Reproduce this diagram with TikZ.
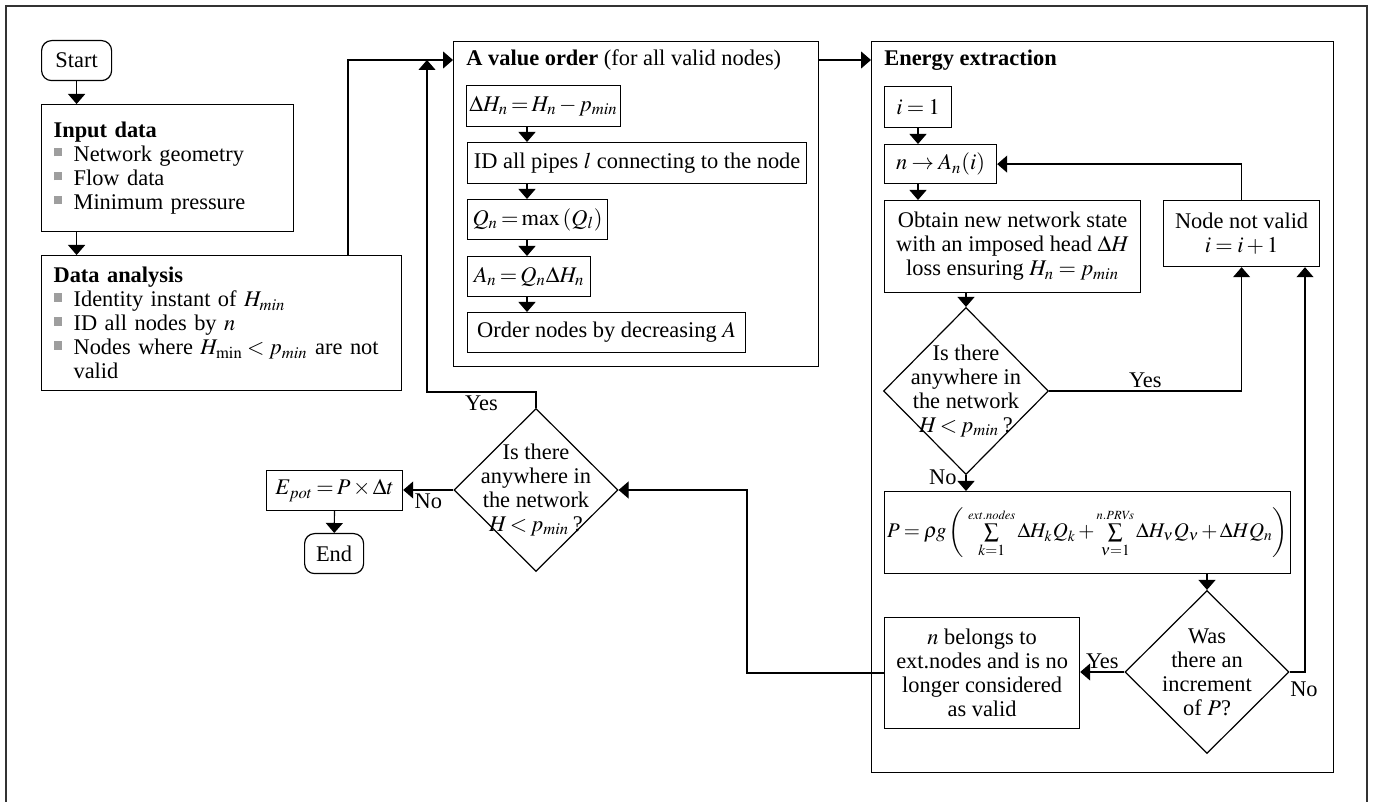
\documentclass[tikz,border=0pt]{standalone}
\usepackage{mathptmx}
\usepackage{fontspec}
\setmainfont{Liberation Serif}
\usetikzlibrary{arrows.meta,shapes.geometric}

\definecolor{bulgray}{gray}{0.62}
\newcommand{\bsq}{\makebox[10pt][l]{\textcolor{bulgray}{\rule[2.5pt]{4.2pt}{4.2pt}}}}
\thickmuskip=3.5mu plus 1mu
\medmuskip=2.5mu plus 1mu

\tikzset{
	box/.style={draw, line width=0.6pt, inner sep=0pt, anchor=north west},
	term/.style={box, rounded corners=5pt},
	groupbox/.style={box},
	listbox/.style={box, inner xsep=6pt, align=left},
	tightmath/.style={execute at begin node={\thickmuskip=2.5mu\medmuskip=2mu}},
	decision/.style={draw, line width=0.6pt, diamond, inner sep=0pt, shape aspect=1},
	arr/.style={line width=0.6pt, -{Triangle[width=8.5pt,length=5pt]}},
	lbl/.style={inner sep=1.5pt},
}

\begin{document}
\begin{tikzpicture}[x=0.5pt, y=-0.5pt, font=\fontsize{11.2}{12}\selectfont]
	\useasboundingbox (0,0) rectangle (1373,802);
	\draw [line width=0.7pt, black!80] (6,812) -- (6,6) -- (1367,6) -- (1367,812);

	% helper columns and rows
	\coordinate (top) at (348,60);
	\coordinate (colA) at (527,0);
	\coordinate (colE) at (918,0);
	\coordinate (colN) at (1305,0);
	\coordinate (colB) at (747,0);
	\coordinate (yes) at (427,392);

	% left column
	\node [term, minimum width=35pt, minimum height=20pt] (start) at (41,40) {Start};
	\node [listbox, text width=114pt, minimum height=63.5pt] (input) at (41,104) {%
		\textbf{Input data}\\
		\bsq Network geometry\\
		\bsq Flow data\\
		\bsq Minimum pressure};
	\node [listbox, text width=168pt, minimum height=67.5pt] (analysis) at (41,255) {%
		\textbf{Data analysis}\\
		\bsq Identity instant of $H_{min}$\\
		\bsq ID all nodes by $n$\\
		\bsq Nodes where $H_{\mathrm{min}} < p_{min}$ are not\\
		\hspace*{10pt}valid};

	% A value order
	\node [groupbox, minimum width=182.5pt, minimum height=162.5pt] (avalue) at (453,41) {};
	\node [anchor=west, inner sep=0pt] (avtitle) at (466,60) {\textbf{A value order} (for all valid nodes)};
	\node [box, tightmath, minimum width=77pt, minimum height=20.5pt] (dh) at (466,85) {$\Delta H_n = H_n - p_{min}$};
	\node [box, minimum width=169.5pt, minimum height=20.5pt] (pipes) at (467,142) {ID all pipes $l$ connecting to the node};
	\node [box, tightmath, minimum width=70pt, minimum height=20pt] (qn) at (467,199) {$Q_n = \max\,(Q_l)$};
	\node [box, tightmath, minimum width=61.5pt, minimum height=20pt] (an) at (467,256) {$A_n = Q_n \Delta H_n$};
	\node [box, minimum width=139pt, minimum height=20pt] (order) at (467,312) {Order nodes by decreasing $A$};

	% Energy extraction
	\node [groupbox, minimum width=231pt, minimum height=365.5pt] (energy) at (871,41) {};
	\node [anchor=west, inner sep=0pt] (entitle) at (884,60) {\textbf{Energy extraction}};
	\node [box, minimum width=33.5pt, minimum height=20.5pt] (ione) at (884,86) {$i = 1$};
	\node [box, minimum width=56pt, minimum height=19.5pt] (nA) at (884,144) {$n \rightarrow A_n(i)$};
	\node [box, minimum width=128pt, minimum height=46pt, align=center] (obtain) at (884,200) {Obtain new network state\\with an imposed head $\Delta H$\\loss ensuring $H_n = p_{min}$};
	\node [box, minimum width=78pt, minimum height=33pt, align=center] (notvalid) at (1163,200) {Node not valid\\$i = i + 1$};
	\node [decision, minimum width=82.5pt, minimum height=83.5pt,
		label={[align=center, tightmath]center:{Is there\\anywhere in\\the network\\$H < p_{min}$\,?}}] (dec1) at (966,391) {};
	\node [box, minimum width=203pt, minimum height=41pt, font=\fontsize{10.4}{12}\selectfont] (power) at (884,491) {\medmuskip=2mu
		$P = \rho\mkern-1mu g\left(\;\sum\limits_{k=1}^{\scriptscriptstyle\mathit{ext.nodes}} \Delta H_k Q_k + \sum\limits_{\nu=1}^{\scriptscriptstyle\mathit{n.PRVs}} \Delta H_\nu Q_\nu + \Delta H Q_n\right)$};
	\node [decision, minimum width=82pt, minimum height=81.5pt,
		label={[align=center]center:{Was\\there an\\increment\\of $P$?}}] (dec2) at (1207,672) {};
	\node [box, minimum width=97.5pt, minimum height=55.5pt, align=center] (belongs) at (884,617) {$n$ belongs to\\ext.nodes and is no\\longer considered\\as valid};

	% final check
	\node [decision, minimum width=82pt, minimum height=81.5pt,
		label={[align=center, tightmath]center:{Is there\\anywhere in\\the network\\$H < p_{min}$\,?}}] (dec3) at (536,490) {};
	\node [box, tightmath, minimum width=68pt, minimum height=20pt] (epot) at (266,470) {$E_{pot} = P \times \Delta t$};
	\node [term, minimum width=29.5pt, minimum height=20pt] (end) at (304,533) {End};

	% connectors
	\draw [arr] (start) -- (start |- input.north);
	\draw [arr] (input.south -| start) -- (analysis.north -| start);
	\draw [arr] (analysis.north -| top) -- (top) -- (top -| avalue.west);
	\draw [arr] (avalue.east |- top) -- (energy.west |- top);
	\draw [arr] (dh.south -| colA) -- (pipes.north -| colA);
	\draw [arr] (pipes.south -| colA) -- (qn.north -| colA);
	\draw [arr] (qn.south -| colA) -- (an.north -| colA);
	\draw [arr] (an.south -| colA) -- (order.north -| colA);
	\draw [arr] (ione.south -| colE) -- (nA.north -| colE);
	\draw [arr] (nA.south -| colE) -- (obtain.north -| colE);
	\draw [arr] (obtain.south -| dec1) -- (dec1.north);
	\draw [arr] (dec1.east) -| (notvalid.south) node [lbl, pos=0.25, above] {Yes};
	\draw [arr] (notvalid.north) |- (nA.east);
	\draw [arr] (dec1.south) -- (dec1.south |- power.north);
	\node [lbl, anchor=east] at ([xshift=-3pt, yshift=-1pt]dec1.south) {No};
	\draw [arr] (power.south -| dec2) -- (dec2.north);
	\draw [arr] (dec2.east) -- (dec2.east -| colN) -- (notvalid.south -| colN);
	\node [lbl] at (1304,689) {No};
	\draw [arr] (dec2.west) -- (belongs.east |- dec2.west) node [lbl, midway, above] {Yes};
	\draw [arr] (belongs.west) -- (belongs.west -| colB) |- (dec3.east);
	\draw [arr] (dec3.north) |- (yes) node [lbl, pos=0.75, below] {Yes} -- (yes |- top);
	\draw [arr] (dec3.west) -- (epot.east |- dec3.west) node [lbl, midway, below] {No};
	\draw [arr] (epot) -- (end);
\end{tikzpicture}
\end{document}
